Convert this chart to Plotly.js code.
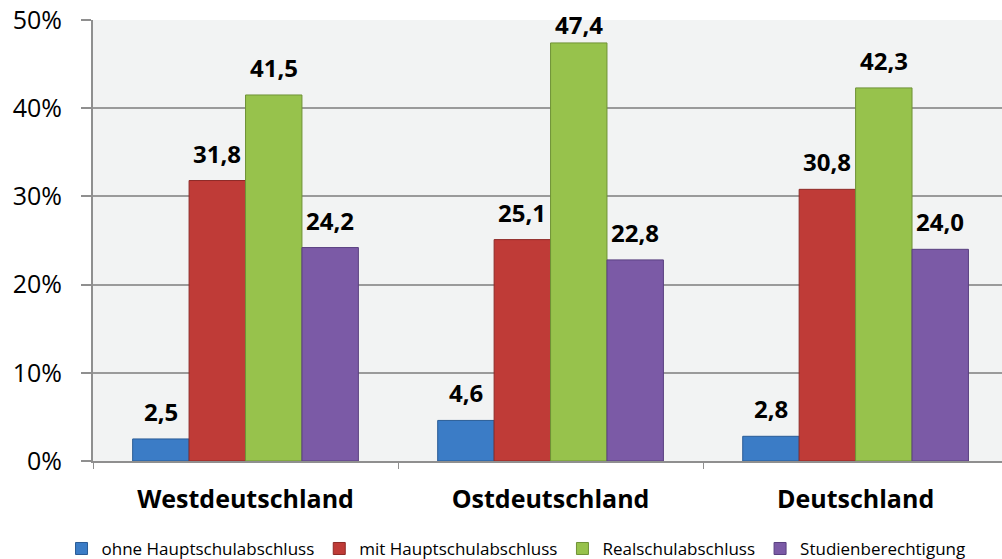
<!DOCTYPE html>
<html>
<head>
<meta charset="utf-8">
<script src="https://cdn.plot.ly/plotly-3.0.1.min.js"></script>
<style>html,body{margin:0;padding:0;background:#fff;}#chart{width:1002px;height:559px;}</style>
</head>
<body>
<div id="chart"></div>
<script>
const categories = ["Westdeutschland", "Ostdeutschland", "Deutschland"];
const seriesNames = ["ohne Hauptschulabschluss", "mit Hauptschulabschluss", "Realschulabschluss", "Studienberechtigung"];
const ohneHaupt = [2.5, 4.6, 2.8];
const mitHaupt = [31.8, 25.1, 30.8];
const realschule = [41.5, 47.4, 42.3];
const studien = [24.2, 22.8, 24.0];
const yTickVals = [0, 10, 20, 30, 40, 50];

const seriesValues = [ohneHaupt, mitHaupt, realschule, studien];
const colors = ["#3b7cc6", "#bf3b37", "#97c24c", "#7b5aa6"];
const edge = ["#2a5c96", "#8e2a27", "#6f9236", "#5a4080"];

const bargap = 0.26;
const nSeries = seriesValues.length;
const barW = (1 - bargap) / nSeries;
const FONT = "'Open Sans', Lato, sans-serif";

const traces = seriesValues.map((vals, i) => ({
  type: "bar",
  name: seriesNames[i],
  x: categories,
  y: vals,
  marker: { color: colors[i], line: { color: edge[i], width: 1 } },
  hoverinfo: "skip"
}));

const yMax = 50;
const plotTop = 20, plotBottom = 461;
const pxPerUnit = (plotBottom - plotTop) / yMax;
const labelH = 30, pad = 9;

const annotations = [];
seriesValues.forEach((vals, i) => {
  vals.forEach((v, c) => {
    const avail = (yMax - v) * pxPerUnit;
    const shift = avail < labelH + pad ? Math.max(0, avail - labelH) : pad;
    annotations.push({
      x: c + (i - (nSeries - 1) / 2) * barW,
      y: v,
      xref: "x", yref: "y",
      text: v.toFixed(1).replace(".", ","),
      showarrow: false,
      yanchor: "bottom",
      yshift: shift,
      font: { family: FONT, size: 24, color: "#000", weight: 700 }
    });
  });
});

const layout = {
  width: 1002, height: 559,
  margin: { l: 93, r: 0, t: 20, b: 98, autoexpand: false },
  paper_bgcolor: "#ffffff",
  plot_bgcolor: "#f2f3f3",
  barmode: "group",
  bargap: bargap,
  bargroupgap: 0,
  showlegend: true,
  legend: {
    orientation: "h",
    xref: "container", yref: "container",
    x: 0.515, xanchor: "center",
    y: 0.018, yanchor: "middle",
    font: { family: FONT, size: 17, color: "#000" },
    itemwidth: 30,
    tracegroupgap: 0,
    traceorder: "normal",
    bgcolor: "rgba(0,0,0,0)"
  },
  xaxis: {
    type: "category",
    range: [-0.5, 2.48],
    showgrid: false,
    showline: true,
    linecolor: "#8f8f8f",
    linewidth: 2,
    ticks: "outside",
    tickson: "boundaries",
    ticklen: 6,
    tickcolor: "#8f8f8f",
    tickwidth: 1,
    ticklabelstandoff: 15,
    tickfont: { family: FONT, size: 25, color: "#000", weight: 700 },
    fixedrange: true
  },
  yaxis: {
    range: [0, yMax],
    tickvals: yTickVals,
    ticktext: yTickVals.map(v => v + "%"),
    showgrid: true,
    gridcolor: "#9a9a9a",
    gridwidth: 2,
    showline: true,
    linecolor: "#8f8f8f",
    linewidth: 2,
    zeroline: false,
    ticks: "outside",
    ticklen: 10,
    tickcolor: "#8f8f8f",
    tickwidth: 2,
    ticklabelstandoff: 14,
    tickfont: { family: FONT, size: 25, color: "#000" },
    fixedrange: true
  },
  annotations: annotations
};

Plotly.newPlot("chart", traces, layout, { displayModeBar: false, staticPlot: true });
</script>
</body>
</html>
